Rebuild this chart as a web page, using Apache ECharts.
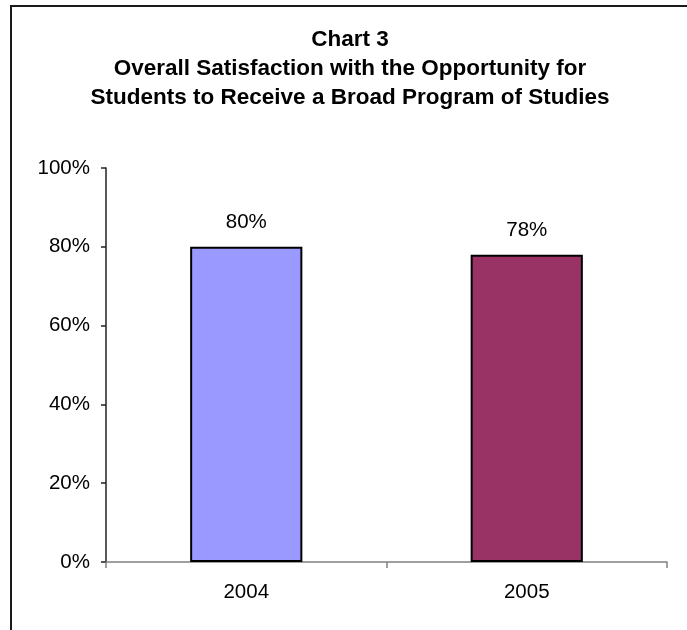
<!DOCTYPE html>
<html>
<head>
<meta charset="utf-8">
<script src="https://cdn.jsdelivr.net/npm/echarts@6/dist/echarts.min.js"></script>
<style>
html,body{margin:0;padding:0;background:#fff;}
#chart{width:687px;height:630px;}
</style>
</head>
<body>
<div id="chart"></div>
<script>
var titleLines = ["Chart 3", "Overall Satisfaction with the Opportunity for", "Students to Receive a Broad Program of Studies"];
var categories = ["2004", "2005"];
var values = [80, 78];
var barColors = ["#9999FF", "#993366"];
var yTicks = [0, 20, 40, 60, 80, 100];

var chart = echarts.init(document.getElementById('chart'), null, {renderer: 'canvas'});
var font = '"Liberation Sans", Arial, sans-serif';
chart.setOption({
  backgroundColor: '#ffffff',
  animation: false,
  graphic: [{
    type: 'rect',
    shape: {x: 11, y: 6, width: 720, height: 720},
    style: {fill: 'none', stroke: '#1a1a1a', lineWidth: 2},
    silent: true
  }],
  title: {
    text: titleLines.join('\n'),
    left: 345,
    top: 20,
    textAlign: 'center',
    textStyle: {fontFamily: font, fontSize: 22.5, fontWeight: 'bold', color: '#000', lineHeight: 29}
  },
  grid: {left: 106, right: 20, top: 168, bottom: 68, containLabel: false},
  xAxis: {
    type: 'category',
    data: categories,
    axisLine: {lineStyle: {color: '#808080', width: 1.5}},
    axisTick: {show: true, length: 6, inside: false, lineStyle: {color: '#808080', width: 1.5}},
    axisLabel: {fontFamily: font, fontSize: 20.5, color: '#000', margin: 20}
  },
  yAxis: {
    type: 'value',
    min: yTicks[0],
    max: yTicks[yTicks.length - 1],
    interval: 20,
    splitLine: {show: false},
    axisLine: {show: true, lineStyle: {color: '#222', width: 1.5}},
    axisTick: {show: true, length: 5, lineStyle: {color: '#222', width: 1.5}},
    axisLabel: {fontFamily: font, fontSize: 20.5, color: '#000', margin: 16, formatter: function (v) { return v + '%'; }}
  },
  series: [{
    type: 'bar',
    barWidth: '40%',
    data: values.map(function (v, i) {
      return {value: v, itemStyle: {color: barColors[i], borderColor: '#000', borderWidth: 2}};
    }),
    label: {
      show: true,
      position: 'top',
      distance: 14,
      fontFamily: font,
      fontSize: 20.5,
      color: '#000',
      formatter: function (p) { return p.value + '%'; }
    }
  }]
});
</script>
</body>
</html>
